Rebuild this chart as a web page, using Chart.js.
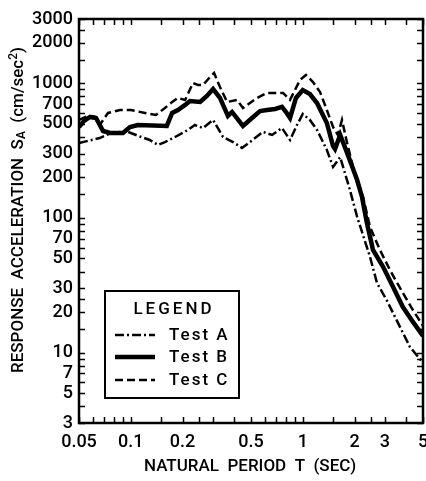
<!DOCTYPE html>
<html><head><meta charset="utf-8">
<script src="https://cdn.jsdelivr.net/npm/chart.js@4.4.1/dist/chart.umd.min.js"></script>
<style>html,body{margin:0;padding:0;background:#fff}</style>
</head><body>
<canvas id="c" width="426" height="481" style="display:block;width:426px;height:481px"></canvas>
<script>
// ---- data ----
const periodsA = [0.05,0.066,0.0767,0.0866,0.0964,0.115,0.129,0.144,0.158,0.181,0.215,0.236,0.263,0.301,0.344,0.393,0.443,0.493,0.587,0.663,0.757,0.843,0.926,1.0,1.1,1.21,1.38,1.5,1.65,1.88,2.07,2.46,2.7,3.09,3.53,4.2,5.0];
const testA = [360,392,427,435,435,399,379,348,366,399,450,490,465,534,399,366,331,366,435,413,465,379,490,591,534,450,320,239,283,161,102,51.3,32.9,24.2,17.2,11.0,8.4];

const periodsB = [0.05,0.0535,0.058,0.0628,0.069,0.0757,0.090,0.099,0.110,0.162,0.174,0.188,0.207,0.221,0.253,0.277,0.301,0.33,0.367,0.388,0.449,0.507,0.564,0.620,0.690,0.757,0.799,0.843,0.913,1.0,1.1,1.21,1.38,1.5,1.54,1.65,1.81,2.07,2.21,2.36,2.56,2.93,3.35,3.82,4.37,5.0];
const testB = [473,525,562,552,442,427,427,473,490,482,602,633,690,738,726,805,906,778,572,612,482,552,622,633,644,667,612,552,778,891,832,713,507,342,325,413,304,191,143,91.8,57.8,43.3,30.7,21.8,16.9,13.3];

const periodsC = [0.05,0.0564,0.062,0.066,0.0737,0.0866,0.1,0.121,0.140,0.158,0.171,0.188,0.207,0.230,0.246,0.263,0.289,0.305,0.33,0.363,0.415,0.449,0.542,0.620,0.768,0.843,0.963,1.044,1.147,1.26,1.38,1.5,1.6,1.69,1.81,1.96,2.24,2.46,2.81,3.21,3.82,4.37,5.0];
const testC = [534,572,562,490,602,633,633,602,581,655,713,778,752,1004,971,971,1113,1192,938,726,752,655,778,847,847,752,1057,1152,1021,861,633,473,413,534,360,239,143,85.7,57.8,41.1,27.7,20.7,15.8];

const seriesNames = ['Test A','Test B','Test C'];
const xTickLabels = [0.05,0.1,0.2,0.5,1,2,3,5];
const yTickLabels = [3,5,7,10,20,30,50,70,100,200,300,500,700,1000,2000,3000];
const minorMultipliers = [1,1.5,2,2.5,3,4,5,6,7,8,9];
const xTitle = 'NATURAL  PERIOD  T  (SEC)';
const legendTitle = 'LEGEND';

// ---- helpers ----
function pairs(xs, ys){ return xs.map((x,i)=>({x:x, y:ys[i]})); }
function minorTicks(lo, hi){
  const out=[];
  for(let e=-3;e<=4;e++){
    minorMultipliers.forEach(m=>{ const v=+(m*Math.pow(10,e)).toPrecision(6); if(v>=lo-1e-9 && v<=hi+1e-9) out.push(v); });
  }
  return out;
}
const FONT = 'Roboto, "Liberation Sans", Arial, sans-serif';
Chart.defaults.font.family = FONT;
Chart.defaults.color = '#000';

const framePlugin = {
  id:'framePlugin',
  afterDatasetsDraw(chart){
    const ctx=chart.ctx, a=chart.chartArea, xs=chart.scales.x, ys=chart.scales.y;
    ctx.save();
    ctx.strokeStyle='#000';
    // inward tick marks
    ctx.lineWidth=1.5;
    const tl=6;
    minorTicks(xs.min, xs.max).forEach(v=>{
      const px=Math.round(xs.getPixelForValue(v))+0.5;
      ctx.beginPath(); ctx.moveTo(px,a.bottom); ctx.lineTo(px,a.bottom-tl); ctx.stroke();
      ctx.beginPath(); ctx.moveTo(px,a.top); ctx.lineTo(px,a.top+tl); ctx.stroke();
    });
    minorTicks(ys.min, ys.max).forEach(v=>{
      const py=Math.round(ys.getPixelForValue(v))+0.5;
      ctx.beginPath(); ctx.moveTo(a.left,py); ctx.lineTo(a.left+tl,py); ctx.stroke();
      ctx.beginPath(); ctx.moveTo(a.right,py); ctx.lineTo(a.right-tl,py); ctx.stroke();
    });
    // frame
    ctx.lineWidth=2.5;
    ctx.strokeRect(a.left, a.top, a.right-a.left, a.bottom-a.top);

    // legend box
    const bx=105, by=291, bw=134, bh=107;
    ctx.fillStyle='#fff';
    ctx.fillRect(bx,by,bw,bh);
    ctx.lineWidth=2;
    ctx.strokeRect(bx,by,bw,bh);
    ctx.fillStyle='#000';
    ctx.textBaseline='middle';
    ctx.textAlign='center';
    ctx.font='500 17px '+FONT;
    try{ ctx.letterSpacing='3px'; }catch(e){}
    ctx.fillText(legendTitle, bx+bw/2+2, 310);
    const rows=[335,357,380];
    chart.data.datasets.forEach((ds,i)=>{
      ctx.save();
      ctx.lineWidth=ds.borderWidth;
      ctx.setLineDash(ds.borderDash||[]);
      ctx.beginPath(); ctx.moveTo(115,rows[i]); ctx.lineTo(155,rows[i]); ctx.stroke();
      ctx.restore();
      ctx.textAlign='left';
      ctx.font='500 17px '+FONT;
      try{ ctx.letterSpacing='2px'; }catch(e){}
      ctx.fillText(ds.label, 169, rows[i]+1);
    });
    try{ ctx.letterSpacing='0px'; }catch(e){}

    // x axis title
    ctx.save();
    ctx.translate(250, 467);
    ctx.textAlign='center';
    ctx.textBaseline='middle';
    ctx.font='500 17px '+FONT;
    ctx.fillText(xTitle, 0, 0);
    ctx.restore();

    // y axis title with subscript / superscript
    ctx.translate(19, 210);
    ctx.rotate(-Math.PI/2);
    ctx.textBaseline='middle';
    const big='500 17px '+FONT, small='500 12px '+FONT;
    const parts=[['RESPONSE  ACCELERATION  S',big,0],['A',small,3],['  (cm/sec',big,0],['2',small,-5],[')',big,0]];
    let total=0;
    parts.forEach(p=>{ctx.font=p[1]; total+=ctx.measureText(p[0]).width;});
    let x=-total/2;
    ctx.textAlign='left';
    parts.forEach(p=>{ctx.font=p[1]; ctx.fillText(p[0], x, p[2]); x+=ctx.measureText(p[0]).width;});
    ctx.restore();
  }
};

new Chart(document.getElementById('c'), {
  type:'line',
  data:{
    datasets:[
      {label:seriesNames[0], data:pairs(periodsA,testA), borderColor:'#000', borderWidth:2.5, borderDash:[9,3,2,3], pointRadius:0, tension:0, fill:false},
      {label:seriesNames[1], data:pairs(periodsB,testB), borderColor:'#000', borderWidth:4.5, borderDash:[], pointRadius:0, tension:0, fill:false},
      {label:seriesNames[2], data:pairs(periodsC,testC), borderColor:'#000', borderWidth:2.5, borderDash:[8,4], pointRadius:0, tension:0, fill:false}
    ]
  },
  options:{
    responsive:false,
    animation:false,
    devicePixelRatio:1,
    layout:{padding:{top:19,right:3,left:0,bottom:0}},
    plugins:{legend:{display:false}, tooltip:{enabled:false}},
    scales:{
      x:{type:'logarithmic', min:0.05, max:5, position:'bottom',
        grid:{display:false, drawTicks:false}, border:{display:false},
        ticks:{autoSkip:false, maxRotation:0, minRotation:0, padding:9, color:'#000', font:{size:18, weight:'500'}, callback:(v)=>String(v)},
        afterBuildTicks:(s)=>{ s.ticks = xTickLabels.map(v=>({value:v})); },
        afterFit:(s)=>{ s.height=58; s.paddingLeft=0; s.paddingRight=0; }
      },
      y:{type:'logarithmic', min:3, max:3000, position:'left',
        grid:{display:false, drawTicks:false}, border:{display:false},
        ticks:{autoSkip:false, padding:6, color:'#000', font:{size:18, weight:'500'}, callback:(v)=>String(v)},
        afterBuildTicks:(s)=>{ s.ticks = yTickLabels.map(v=>({value:v})); },
        afterFit:(s)=>{ s.width=79; s.paddingTop=0; s.paddingBottom=0; }
      }
    }
  },
  plugins:[framePlugin]
});
</script>
</body></html>
